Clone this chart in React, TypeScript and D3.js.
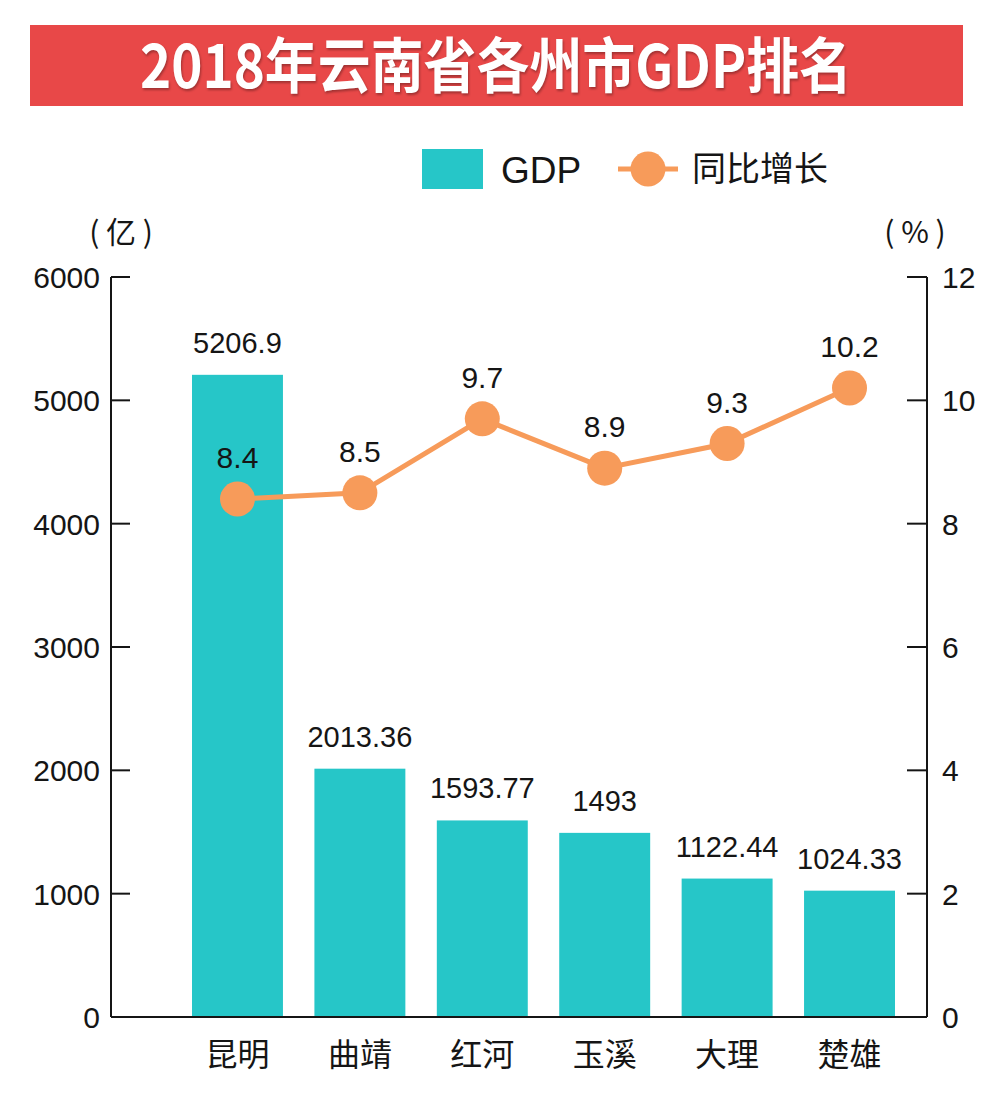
import * as d3 from "d3"

const cities = ["昆明", "曲靖", "红河", "玉溪", "大理", "楚雄"]
const gdp = [5206.9, 2013.36, 1593.77, 1493, 1122.44, 1024.33]
const gdpLabels = ["5206.9", "2013.36", "1593.77", "1493", "1122.44", "1024.33"]
const growth = [8.4, 8.5, 9.7, 8.9, 9.3, 10.2]
const leftTicks = [0, 1000, 2000, 3000, 4000, 5000, 6000]
const rightTicks = [0, 2, 4, 6, 8, 10, 12]

const TEAL = "#26c6c8"
const ORANGE = "#f79b5a"
const RED = "#e84848"
const INK = "#151515"
const NUM_FONT = "'Liberation Sans', Arial, sans-serif"
const CJK_FONT = "'Noto Sans CJK SC', sans-serif"

export default function App() {
  const width = 1000
  const height = 1107
  const axisLeft = 111
  const axisRight = 927
  const top = 277
  const bottom = 1017

  const x = d3.scaleBand<string>().domain(cities).range([192, 895]).paddingInner(0.257).paddingOuter(0)
  const yL = d3.scaleLinear().domain([0, 6000]).range([bottom, top])
  const yR = d3.scaleLinear().domain([0, 12]).range([bottom, top])

  const cx = (c: string) => (x(c) ?? 0) + x.bandwidth() / 2

  const line = d3
    .line<number>()
    .x((_, i) => cx(cities[i]))
    .y((d) => yR(d))

  return (
    <svg width={width} height={height} style={{ position: "absolute", left: 0, top: 0, background: "#fff" }}>
      {/* title */}
      <rect x={30} y={25} width={933} height={81} fill={RED} />
      <text
        x={496}
        y={88}
        textAnchor="middle"
        fill="#fff"
        fontFamily={CJK_FONT}
        fontWeight={700}
        fontSize={60}
        textLength={712}
        lengthAdjust="spacingAndGlyphs"
        style={{ filter: "drop-shadow(1px 2px 1px rgba(0,0,0,0.3))" }}
      >
        2018年云南省各州市GDP排名
      </text>

      {/* legend */}
      <rect x={422} y={149} width={61} height={40} fill={TEAL} />
      <text x={501} y={183} fontFamily={NUM_FONT} fontSize={37} fill={INK}>GDP</text>
      <line x1={618} x2={678} y1={169} y2={169} stroke={ORANGE} strokeWidth={5} />
      <circle cx={648} cy={169} r={17.5} fill={ORANGE} />
      <text x={692} y={181} fontFamily={CJK_FONT} fontSize={34} fill={INK}>同比增长</text>

      {/* units */}
      <text x={121} y={243} textAnchor="middle" fontFamily={CJK_FONT} fontSize={30} fill={INK}>( 亿 )</text>
      <text x={915} y={243} textAnchor="middle" fontFamily={CJK_FONT} fontSize={30} fill={INK}>( % )</text>

      {/* bars */}
      {cities.map((c, i) => (
        <g key={c}>
          <rect x={x(c)} y={yL(gdp[i])} width={x.bandwidth()} height={bottom - yL(gdp[i])} fill={TEAL} />
          <text x={cx(c)} y={yL(gdp[i]) - 22} textAnchor="middle" fontFamily={NUM_FONT} fontSize={29} fill={INK}>
            {gdpLabels[i]}
          </text>
          <text x={cx(c)} y={1066} textAnchor="middle" fontFamily={CJK_FONT} fontSize={32} fill={INK}>
            {c}
          </text>
        </g>
      ))}

      {/* axes */}
      <g stroke={INK} strokeWidth={2} fill="none">
        <line x1={axisLeft} x2={axisLeft} y1={top} y2={bottom} />
        <line x1={axisRight} x2={axisRight} y1={top} y2={bottom} />
        <line x1={axisLeft} x2={axisRight} y1={bottom} y2={bottom} />
        {leftTicks.map((t) => (
          <line key={"l" + t} x1={axisLeft} x2={axisLeft + 19} y1={yL(t)} y2={yL(t)} />
        ))}
        {rightTicks.map((t) => (
          <line key={"r" + t} x1={axisRight - 20} x2={axisRight} y1={yR(t)} y2={yR(t)} />
        ))}
      </g>
      {leftTicks.map((t) => (
        <text key={"lt" + t} x={100} y={yL(t) + 11} textAnchor="end" fontFamily={NUM_FONT} fontSize={30} fill={INK}>
          {t}
        </text>
      ))}
      {rightTicks.map((t) => (
        <text key={"rt" + t} x={942} y={yR(t) + 11} fontFamily={NUM_FONT} fontSize={30} fill={INK}>
          {t}
        </text>
      ))}

      {/* growth line */}
      <path d={line(growth) ?? ""} fill="none" stroke={ORANGE} strokeWidth={5} />
      {growth.map((g, i) => (
        <g key={"g" + i}>
          <circle cx={cx(cities[i])} cy={yR(g)} r={17.5} fill={ORANGE} />
          <text x={cx(cities[i])} y={yR(g) - 31} textAnchor="middle" fontFamily={NUM_FONT} fontSize={30} fill={INK}>
            {g}
          </text>
        </g>
      ))}
    </svg>
  )
}
